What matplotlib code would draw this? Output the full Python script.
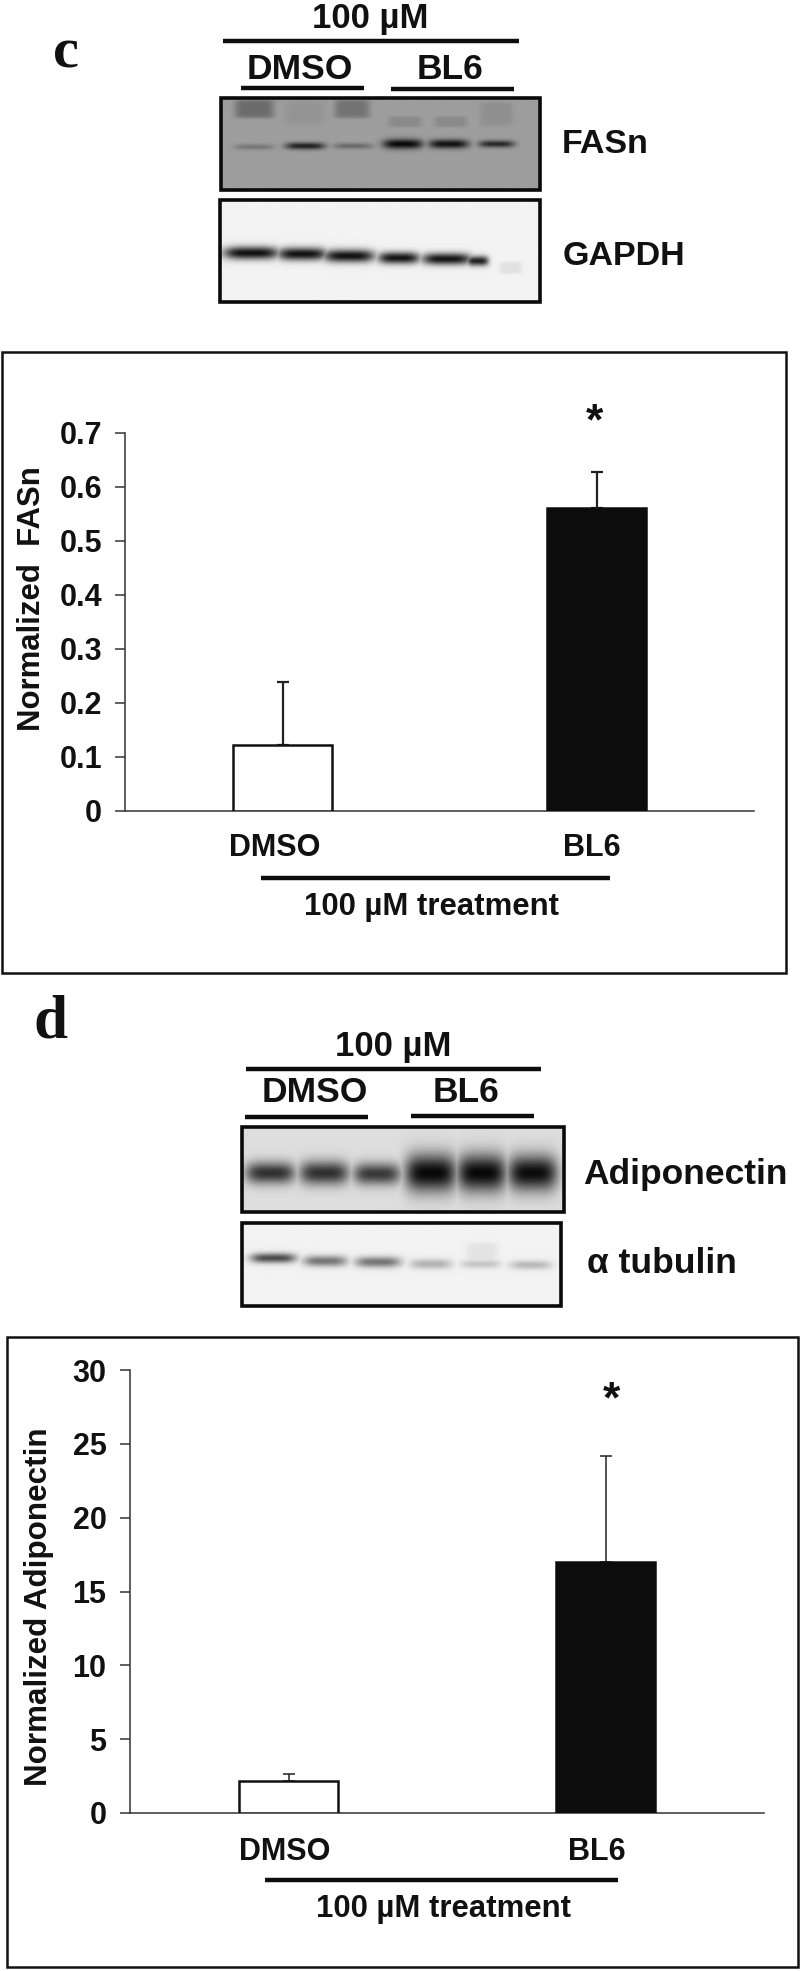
#!/usr/bin/env python3

import matplotlib
matplotlib.use("Agg")
import matplotlib.pyplot as plt
import numpy as np
from matplotlib.patches import Rectangle

W, H = 800, 1971
INK = "#111111"

categories = ["DMSO", "BL6"]

fasn_values = [0.121, 0.561]
fasn_errors = [0.117, 0.066]
fasn_ticks = [0, 0.1, 0.2, 0.3, 0.4, 0.5, 0.6, 0.7]
fasn_tick_labels = ["0", "0.1", "0.2", "0.3", "0.4", "0.5", "0.6", "0.7"]

adipo_values = [2.18, 17.0]
adipo_errors = [0.48, 7.2]
adipo_ticks = [0, 5, 10, 15, 20, 25, 30]
adipo_tick_labels = ["0", "5", "10", "15", "20", "25", "30"]

# band darkness per lane, read by eye from the blots
fasn_density = [0.3, 0.85, 0.38, 1.0, 0.95, 0.8]
gapdh_density = [0.97, 0.96, 0.96, 0.95, 0.95, 0.9]
adipo_density = [0.82, 0.82, 0.78, 1.0, 1.0, 0.98]
tubulin_density = [0.72, 0.55, 0.55, 0.3, 0.22, 0.27]


def blot(ax, box, background, lanes, density, smears=()):
    left, top, right, bottom = box
    xx, yy = np.meshgrid(np.arange(left, right + 1), np.arange(top, bottom + 1))
    img = np.full(xx.shape, background, dtype=float)
    for (x, y, half_w, half_h), dens in zip(lanes, density):
        shape = np.exp(-(np.abs(xx - x) / half_w) ** 4 - ((yy - y) / half_h) ** 2)
        img = np.minimum(img, background * (1 - dens * shape) + 0.03 * shape)
    for x0, x1, y0, y1, level in smears:
        shape = np.exp(-(np.abs(xx - (x0 + x1) / 2) / ((x1 - x0) / 2)) ** 6
                       - (np.abs(yy - (y0 + y1) / 2) / ((y1 - y0) / 2)) ** 6)
        img = np.minimum(img, background + (level - background) * shape)
    ax.imshow(img, cmap="gray", vmin=0, vmax=1, extent=(left, right, bottom, top),
              aspect="auto", interpolation="bilinear", zorder=1)
    ax.add_patch(Rectangle((left, top), right - left, bottom - top, fill=False,
                           ec="#0a0a0a", lw=2.6, zorder=2))


def label(ax, x, y, text, size):
    ax.text(x, y, text, fontsize=size, fontweight="bold", color=INK,
            ha="center", va="center_baseline", zorder=3)


def rule(ax, x0, x1, y, lw=3.2):
    ax.plot([x0, x1], [y, y], color="#0d0d0d", lw=lw, solid_capstyle="butt", zorder=3)


def bar_chart(fig, rect, values, errors, ticks, tick_labels, ymax, err_lw):
    left, top, right, bottom = rect
    ax = fig.add_axes([left / W, 1 - bottom / H, (right - left) / W, (bottom - top) / H])
    ax.patch.set_alpha(0)
    ax.bar(0, values[0], width=0.315, color="white", edgecolor="#111111", linewidth=1.8, zorder=3)
    ax.bar(1, values[1], width=0.315, color="#0c0c0c", edgecolor="#0c0c0c", linewidth=1.8, zorder=3)
    ax.errorbar([0, 1], values, yerr=[[0, 0], errors], fmt="none", ecolor="#222222",
                elinewidth=err_lw, capsize=4, capthick=err_lw, zorder=2)
    ax.set_xlim(-0.5, 1.5)
    ax.set_ylim(0, ymax)
    ax.set_xticks([])
    ax.set_yticks(ticks)
    ax.set_yticklabels(tick_labels, fontsize=22, fontweight="bold", color=INK)
    ax.tick_params(axis="y", length=7, width=1.1, color="#333333", pad=10)
    ax.spines["top"].set_visible(False)
    ax.spines["right"].set_visible(False)
    ax.spines["left"].set_color("#333333")
    ax.spines["bottom"].set_color("#333333")
    ax.spines["left"].set_linewidth(1.1)
    ax.spines["bottom"].set_linewidth(1.1)
    return ax


def main():
    plt.rcParams["font.family"] = ["Liberation Sans", "DejaVu Sans"]
    fig = plt.figure(figsize=(W / 100, H / 100), dpi=100, facecolor="white")
    page = fig.add_axes([0, 0, 1, 1])
    page.axis("off")

    # panel c, blots
    page.text(66, 68, "c", fontsize=42, fontweight="bold", family="Liberation Serif",
              color=INK, ha="center", va="baseline")
    label(page, 370, 15, "100 µM", 25)
    rule(page, 223, 519, 41)
    label(page, 300, 66, categories[0], 25.5)
    label(page, 450, 66, categories[1], 25.5)
    rule(page, 241, 364, 88)
    rule(page, 391, 514, 89)
    blot(page, (221, 98, 540, 190), 0.62,
         [(254, 147, 20, 3), (305, 146, 20, 3.5), (353, 146, 20, 3),
          (403, 144, 20, 5), (449, 144, 20, 4.5), (497, 144, 18, 3.5)],
         fasn_density,
         [(234, 274, 99, 118, 0.42), (334, 370, 99, 118, 0.45), (284, 326, 100, 125, 0.58),
          (388, 422, 116, 127, 0.54), (434, 468, 116, 127, 0.54), (480, 514, 101, 126, 0.56)])
    label(page, 605, 141, "FASn", 24.5)
    blot(page, (220, 200, 540, 302), 0.95,
         [(251, 253, 28, 6.5), (302, 254, 25, 6.5), (349, 256, 26, 6.5),
          (399, 258, 21, 6), (447, 259, 25, 6), (478, 261, 11, 5)],
         gapdh_density, [(500, 522, 262, 274, 0.88)])
    label(page, 624, 253, "GAPDH", 24.5)

    # panel c, chart
    page.add_patch(Rectangle((2, 352), 784, 621, fill=False, ec="#111111", lw=1.8))
    bar_chart(fig, (125.5, 432.5, 753.5, 810.5), fasn_values, fasn_errors,
              fasn_ticks, fasn_tick_labels, 0.7, 1.6)
    page.text(32, 599, "Normalized  FASn", fontsize=22.4, fontweight="bold", color=INK,
              rotation=90, ha="center", va="center")
    label(page, 274.5, 845, categories[0], 22)
    label(page, 592, 845, categories[1], 22)
    rule(page, 261, 610, 878)
    label(page, 432, 904, "100 µM treatment", 22.4)
    page.text(594, 423, "*", fontsize=32, fontweight="bold", color=INK, ha="center", va="center")

    # panel d, blots
    page.text(50, 1037, "d", fontsize=44, fontweight="bold", family="Liberation Serif",
              color=INK, ha="center", va="baseline")
    label(page, 393, 1043, "100 µM", 25)
    rule(page, 246, 541, 1069)
    label(page, 315, 1089, categories[0], 25.5)
    label(page, 466, 1089, categories[1], 25.5)
    rule(page, 245, 368, 1117)
    rule(page, 411, 534, 1116)
    blot(page, (242, 1127, 564, 1212), 0.87,
         [(270, 1173, 25, 11), (324, 1173, 25, 12), (377, 1174, 24, 11),
          (431, 1173, 26, 19), (482, 1173, 25, 19), (533, 1173, 25, 18)],
         adipo_density)
    label(page, 685, 1171, "Adiponectin", 25.5)
    blot(page, (242, 1223, 561, 1306), 0.95,
         [(273, 1258, 23, 5), (325, 1261, 22, 5.5), (378, 1262, 23, 5.5),
          (431, 1264, 21, 5), (481, 1264, 20, 4.5), (531, 1265, 21, 4.5)],
         tubulin_density, [(466, 498, 1242, 1264, 0.89)])
    label(page, 662, 1260, "α tubulin", 25.5)

    # panel d, chart
    page.add_patch(Rectangle((7, 1337), 791, 630, fill=False, ec="#111111", lw=1.8))
    bar_chart(fig, (130, 1370, 764, 1813), adipo_values, adipo_errors,
              adipo_ticks, adipo_tick_labels, 30, 1.1)
    page.text(39, 1607, "Normalized Adiponectin", fontsize=22.6, fontweight="bold", color=INK,
              rotation=90, ha="center", va="center")
    label(page, 285, 1849, categories[0], 22)
    label(page, 597, 1849, categories[1], 22)
    rule(page, 265, 618, 1880)
    label(page, 444, 1906, "100 µM treatment", 22.4)
    page.text(611, 1401, "*", fontsize=32, fontweight="bold", color=INK, ha="center", va="center")

    page.set_xlim(0, W)
    page.set_ylim(H, 0)
    fig.savefig("out.png", dpi=100)
    plt.close(fig)


if __name__ == "__main__":
    main()
